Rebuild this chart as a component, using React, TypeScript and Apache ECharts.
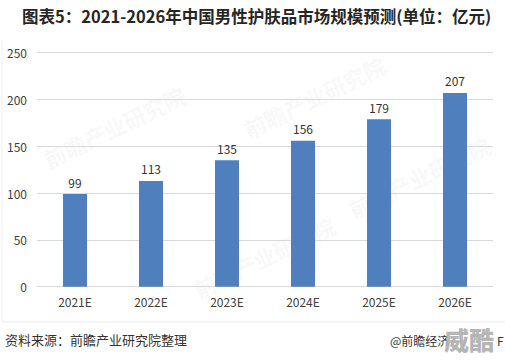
import React, { useEffect, useRef } from "react";
import * as echarts from "echarts";

const categories = ["2021E", "2022E", "2023E", "2024E", "2025E", "2026E"];
const values = [99, 113, 135, 156, 179, 207];
const titleText = "图表5：2021-2026年中国男性护肤品市场规模预测(单位：亿元)";
const sourceText = "资料来源：前瞻产业研究院整理";

export default function App() {
  const ref = useRef<HTMLDivElement>(null);
  useEffect(() => {
    const chart = echarts.init(ref.current!, undefined, { renderer: "svg" });
    const font = "'Noto Sans CJK SC', 'Noto Sans', sans-serif";
    const wm = (x: number, y: number) => ({
      type: "text",
      x,
      y,
      rotation: Math.PI / 7,
      z: -1,
      style: {
        text: "前瞻产业研究院",
        fill: "rgba(200,200,200,0.12)",
        font: `bold 22px ${font}`,
      },
    });
    chart.setOption({
      animation: false,
      backgroundColor: "#ffffff",
      textStyle: { fontFamily: font },
      grid: { left: 37, right: 12, top: 52.7, bottom: 73.3, containLabel: false },
      xAxis: {
        type: "category",
        data: categories,
        axisLine: { lineStyle: { color: "#d9d9d9" } },
        axisTick: { show: false },
        axisLabel: { color: "#404040", fontSize: 12, margin: 9 },
      },
      yAxis: {
        type: "value",
        min: 0,
        max: 250,
        interval: 50,
        axisLine: { show: false },
        axisTick: { show: false },
        splitLine: { lineStyle: { color: "#d9d9d9" } },
        axisLabel: { color: "#404040", fontSize: 12, margin: 10 },
      },
      series: [
        {
          type: "bar",
          data: values,
          barWidth: 24,
          itemStyle: { color: "#4F7FBD" },
          label: {
            show: true,
            position: "top",
            distance: 6,
            color: "#333333",
            fontSize: 12,
          },
        },
      ],
      graphic: [
        wm(40, 150),
        wm(240, 120),
        wm(345, 200),
        wm(190, 280),
        {
          type: "text",
          left: 22,
          top: 8,
          style: { text: titleText, fill: "#262626", font: `bold 16.5px ${font}` },
        },
        {
          type: "line",
          shape: { x1: 2, y1: 322, x2: 505, y2: 322 },
          style: { stroke: "#ebebeb", lineWidth: 1 },
        },
        {
          type: "line",
          shape: { x1: 2, y1: 40, x2: 2, y2: 322 },
          style: { stroke: "#f0f0f0", lineWidth: 1 },
        },
        {
          type: "text",
          left: 5,
          top: 333,
          style: { text: sourceText, fill: "#333333", font: `13px ${font}` },
        },
        {
          type: "text",
          left: 390,
          top: 334,
          style: { text: "@前瞻经济", fill: "#333333", font: `12px ${font}` },
        },
        {
          type: "text",
          left: 444,
          top: 326,
          style: { text: "威酷", fill: "#b5b5b5", font: `900 25px ${font}` },
        },
        {
          type: "text",
          left: 497,
          top: 334,
          style: { text: "F", fill: "#333333", font: `12px ${font}` },
        },
      ],
    });
    return () => chart.dispose();
  }, []);
  return <div ref={ref} style={{ width: 505, height: 360, position: "absolute", left: 0, top: 0 }} />;
}
